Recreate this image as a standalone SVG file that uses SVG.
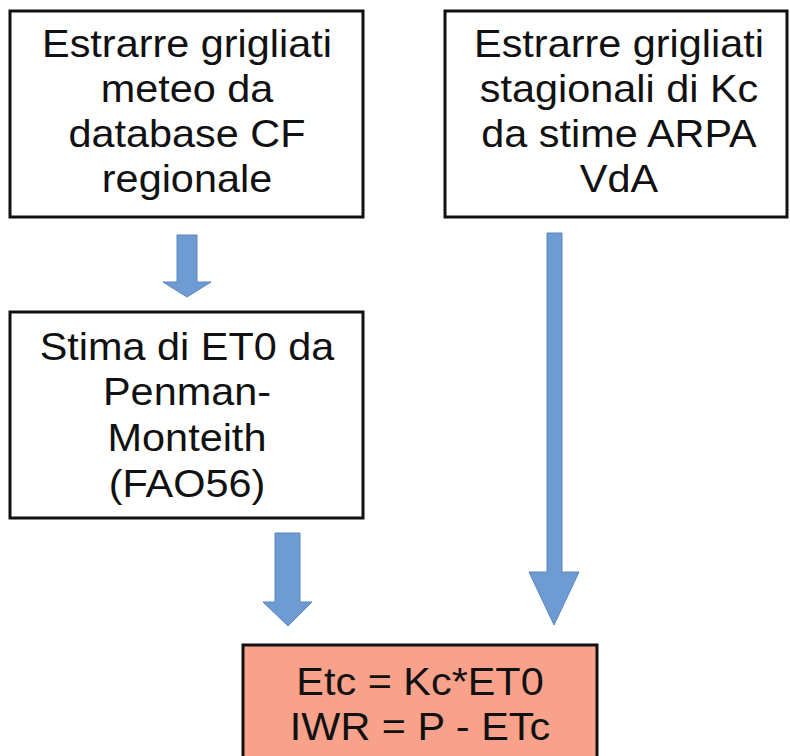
<svg xmlns="http://www.w3.org/2000/svg" width="790" height="756" viewBox="0 0 790 756">
<style>
.box{fill:#fff;stroke:#111;stroke-width:3}
.hl{fill:#f8a28b;stroke:#111;stroke-width:3}
.t{font-family:"Liberation Sans",Arial,sans-serif;font-size:38px;fill:#111;text-anchor:middle}
.arr{fill:#6e9bd2;stroke:#5a86bf;stroke-width:1}
</style>
<rect width="790" height="756" fill="#fff"/>
<g id="connectors">
<polygon class="arr" points="177,235 197,235 197,282 211,282 187,297 163,282 177,282"/>
<polygon class="arr" points="547,233 562,233 562,572 579,572 554,625 529,572 547,572"/>
<polygon class="arr" points="275,533 300,533 300,602 312,602 288,626 263,602 275,602"/>
</g>
<g id="n1">
<rect class="box" x="10" y="11" width="353" height="206"/>
<g transform="translate(187,0) scale(1.09,1)">
<text class="t" x="0" y="57">Estrarre grigliati</text>
<text class="t" x="0" y="102">meteo da</text>
<text class="t" x="0" y="147">database CF</text>
<text class="t" x="0" y="192">regionale</text>
</g>
</g>
<g id="n2">
<rect class="box" x="445" y="11" width="342" height="206"/>
<g transform="translate(619,0) scale(1.09,1)">
<text class="t" x="0" y="57">Estrarre grigliati</text>
<text class="t" x="0" y="102">stagionali di Kc</text>
<text class="t" x="0" y="147">da stime ARPA</text>
<text class="t" x="0" y="192">VdA</text>
</g>
</g>
<g id="n3">
<rect class="box" x="10" y="312" width="353" height="206"/>
<g transform="translate(187,0) scale(1.09,1)">
<text class="t" x="0" y="360">Stima di ET0 da</text>
<text class="t" x="0" y="405">Penman-</text>
<text class="t" x="0" y="451">Monteith</text>
<text class="t" x="0" y="497">(FAO56)</text>
</g>
</g>
<g id="n4">
<rect class="hl" x="243" y="645" width="354" height="120"/>
<g transform="translate(420,0) scale(1.09,1)">
<text class="t" x="0" y="695">Etc = Kc*ET0</text>
<text class="t" x="0" y="740">IWR = P - ETc</text>
</g>
</g>
</svg>
